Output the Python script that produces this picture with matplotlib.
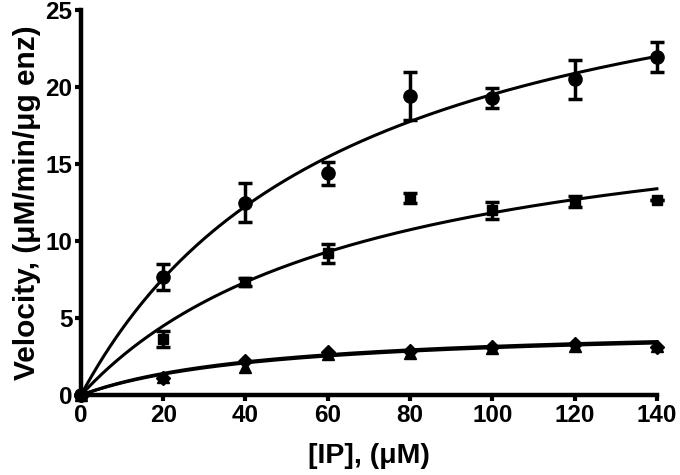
import numpy as np
import matplotlib.pyplot as plt

plt.rcParams['font.family'] = ['Liberation Sans', 'DejaVu Sans']
plt.rcParams['font.weight'] = 'bold'

# concentracoes de IP (uM)
ip = [0, 20, 40, 60, 80, 100, 120, 140]

# circulos
v_circ = [0, 7.65, 12.5, 14.4, 19.4, 19.3, 20.5, 21.95]
e_circ = [0, 0.85, 1.25, 0.75, 1.55, 0.65, 1.25, 1.0]

# quadrados
v_quad = [0, 3.65, 7.35, 9.2, 12.8, 12.0, 12.55, 12.65]
e_quad = [0, 0.5, 0.25, 0.6, 0.35, 0.55, 0.35, 0]

# losangos e triangulos
v_los = [0, 1.1, 2.25, 2.8, 2.85, 3.15, 3.35, 3.15]
v_tri = [0, 1.15, 1.85, 2.7, 2.75, 3.05, 3.2, 3.2]

# parametros de Michaelis-Menten ajustados (Vmax, Km)
fit_circ = (32.2, 65)
fit_quad = (20.0, 69)
fit_los = (4.6, 45)
fit_tri = (4.5, 46)


def mm(s, vmax, km):
    return vmax * s / (km + s)


s = np.linspace(0, 140, 300)

fig = plt.figure(figsize=(6.8, 4.75), dpi=100)
ax = fig.add_axes([0.119, 0.168, 0.847, 0.811])

for par in [fit_circ, fit_quad, fit_los, fit_tri]:
    ax.plot(s, mm(s, *par), color='black', lw=2.2, clip_on=False)

kw = dict(color='black', ecolor='black', elinewidth=2.5, capsize=5,
          capthick=2.5, linestyle='none', clip_on=False)
ax.errorbar(ip, v_circ, yerr=e_circ, marker='o', markersize=9.5, **kw)
ax.errorbar(ip, v_quad, yerr=e_quad, marker='s', markersize=7.5, **kw)
ax.plot(ip, v_tri, marker='^', markersize=8, color='black', linestyle='none', clip_on=False)
ax.plot(ip, v_los, marker='D', markersize=7, color='black', linestyle='none', clip_on=False)

ax.set_xlim(0, 140)
ax.set_ylim(0, 25)
ax.set_xticks(np.arange(0, 141, 20))
ax.set_yticks(np.arange(0, 26, 5))

for sp in ['top', 'right']:
    ax.spines[sp].set_visible(False)
for sp in ['left', 'bottom']:
    ax.spines[sp].set_linewidth(3.2)
ax.tick_params(width=3, length=4, labelsize=17.5, pad=2)
for lab in ax.get_xticklabels() + ax.get_yticklabels():
    lab.set_fontweight('bold')

ax.set_xlabel('[IP], (\u03bcM)', fontsize=20.5, fontweight='bold', labelpad=12)
ax.set_ylabel('Velocity, (\u03bcM/min/\u03bcg enz)', fontsize=21.5, fontweight='bold', labelpad=3)

fig.savefig('out.png', dpi=100)
